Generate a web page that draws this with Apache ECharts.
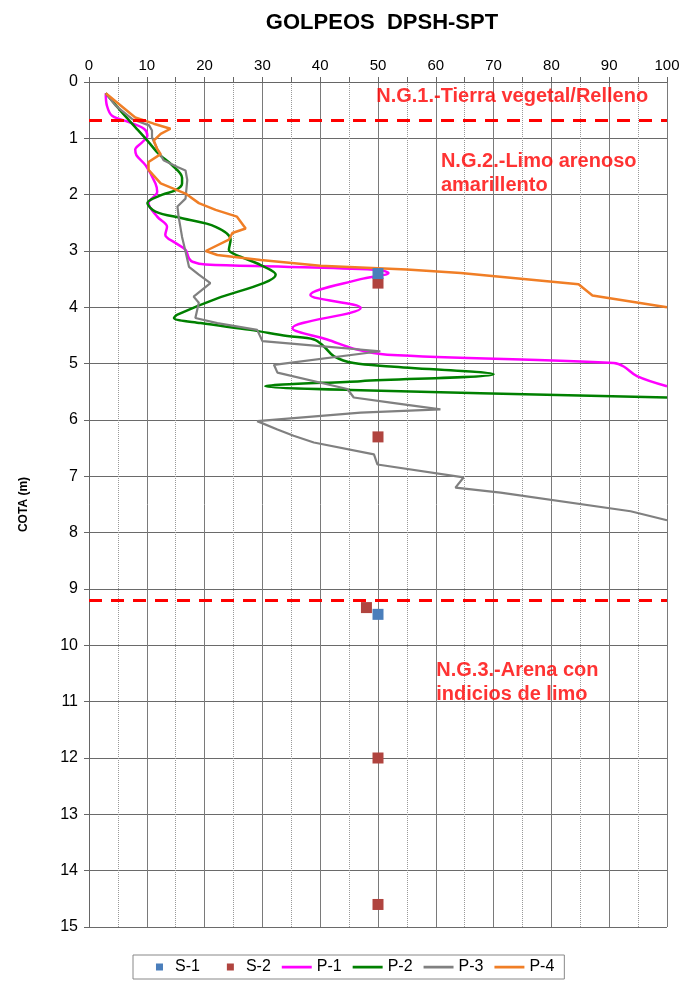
<!DOCTYPE html>
<html>
<head>
<meta charset="utf-8">
<script src="https://cdn.jsdelivr.net/npm/echarts@6/dist/echarts.min.js"></script>
<style>
html,body{margin:0;padding:0;background:#fff;}
#chart{width:683px;height:983px;}
</style>
</head>
<body>
<div id="chart"></div>
<script>
// ---- data: [golpeos, cota] ----
var s1 = [[50, 3.4], [50, 9.45]];
var s2 = [[50, 3.57], [50, 6.3], [48, 9.33], [50, 12.0], [50, 14.6]];
var p1 = [[2.9,0.2],[3.1,0.42],[4.0,0.6],[6.9,0.71],[9.5,0.83],[10.1,0.95],[9.2,1.07],[8.0,1.2],[8.2,1.3],[9.8,1.48],[11.5,1.8],[11.8,1.95],[10.3,2.15],[11.8,2.39],[13.5,2.57],[13.2,2.71],[15,2.86],[16.7,2.98],[17.3,3.13],[17.9,3.19],[20.2,3.24],[33.7,3.28],[50.4,3.34],[51.8,3.39],[47,3.5],[38.3,3.78],[47,4.01],[35.2,4.37],[41.2,4.57],[46.4,4.75],[51.6,4.84],[90.8,4.99],[92.5,5.05],[94.8,5.22],[100,5.4]];
var p2 = [[2.9,0.2],[5.7,0.54],[8.0,0.8],[10.1,1.04],[12.1,1.28],[14.4,1.48],[16.1,1.7],[16.1,1.8],[15,1.92],[12.7,2.0],[10.1,2.15],[11.5,2.3],[16.1,2.42],[21.9,2.57],[24.5,2.8],[24.2,2.98],[26.2,3.1],[29.7,3.25],[32.3,3.42],[30.2,3.57],[22.2,3.84],[15.3,4.13],[14.7,4.19],[19.3,4.28],[27.9,4.4],[34.3,4.51],[38.9,4.57],[40.6,4.69],[42.4,4.87],[45.8,4.99],[52.2,5.05],[70,5.19],[47,5.31],[30.5,5.4],[47,5.47],[100,5.6]];
var p3 = [[2.9,0.2],[4.6,0.42],[7.5,0.66],[10.4,0.77],[10.9,0.86],[10.9,0.98],[11.8,1.19],[12.9,1.39],[15.3,1.51],[16.7,1.57],[17,1.74],[16.7,2.07],[15.3,2.21],[15.5,2.39],[16.1,2.75],[16.7,3.01],[17.3,3.28],[19.0,3.42],[21.0,3.57],[18.1,3.81],[19.0,3.92],[18.4,4.19],[22.2,4.28],[29.1,4.4],[30,4.6],[40,4.69],[50.4,4.78],[32,5.02],[32.6,5.16],[44.7,5.45],[45.8,5.6],[52.2,5.69],[60.8,5.81],[47,5.87],[29.1,6.02],[32.6,6.17],[35.4,6.28],[38.9,6.4],[49.3,6.61],[49.9,6.79],[64.8,7.02],[63.4,7.2],[71.2,7.29],[93.7,7.62],[100,7.78]];
var p4 = [[2.9,0.2],[8.0,0.63],[11.2,0.74],[14.1,0.83],[12.4,0.92],[11.2,1.04],[11.8,1.19],[12.4,1.28],[10.3,1.42],[10.3,1.56],[12.4,1.8],[16.7,1.98],[19,2.15],[21.9,2.27],[25.6,2.39],[27.1,2.6],[24.8,2.68],[24.2,2.8],[20.2,3.0],[22.2,3.07],[29.7,3.16],[40,3.26],[55,3.33],[64.3,3.39],[84.7,3.59],[87.1,3.79],[100,4.0]];
var boundaries = [0.68, 9.2];
var annotations = [
  [49.6, 0.25, 'N.G.1.-Tierra vegetal/Relleno'],
  [60.8, 1.63, 'N.G.2.-Limo arenoso\namarillento'],
  [60.0, 10.66, 'N.G.3.-Arena con\nindicios de limo']
];
var titleText = 'GOLPEOS  DPSH-SPT';
var yName = 'COTA (m)';

var FONT = '"Liberation Sans", Arial, sans-serif';
var SQUARE_ICON = 'path://M0,0h0.01v0.01h-0.01zM16,1.5h7v7h-7zM30,10h0.01v0.01h-0.01z';
var LINE_ICON = 'path://M0,0h0.01v0.01h-0.01zM0,3.8h30v2.6h-30zM30,10h0.01v0.01h-0.01z';
var chart = echarts.init(document.getElementById('chart'));
function lineSeries(name, data, color, width, smooth) {
  return {name: name, type: 'line', data: data, symbol: 'none', smooth: smooth,
    lineStyle: {color: color, width: width}, itemStyle: {color: color}, z: 3};
}
chart.setOption({
  animation: false,
  backgroundColor: '#fff',
  title: {text: titleText, left: 377, top: 7, textAlign: 'center',
    textStyle: {fontFamily: FONT, fontWeight: 'bold', fontSize: 22, color: '#000'}},
  grid: {left: 89, right: 16, top: 82, bottom: 56},
  legend: {
    data: [
      {name: 'S-1', icon: SQUARE_ICON}, {name: 'S-2', icon: SQUARE_ICON},
      {name: 'P-1', icon: LINE_ICON}, {name: 'P-2', icon: LINE_ICON},
      {name: 'P-3', icon: LINE_ICON}, {name: 'P-4', icon: LINE_ICON}
    ],
    left: 133, top: 955, itemWidth: 30, itemHeight: 10, itemGap: 11,
    padding: [4, 10, 4, 7], borderColor: '#888', borderWidth: 1,
    itemStyle: {borderWidth: 0},
    textStyle: {fontFamily: FONT, fontSize: 16, color: '#000'}
  },
  xAxis: {
    type: 'value', position: 'top', min: 0, max: 100, interval: 10,
    axisLine: {show: true, lineStyle: {color: '#666', width: 1}},
    axisTick: {show: true, length: 5, lineStyle: {color: '#666'}},
    minorTick: {show: true, splitNumber: 2, length: 5, lineStyle: {color: '#666'}},
    axisLabel: {fontFamily: FONT, fontSize: 15, color: '#000', margin: 9},
    splitLine: {show: true, lineStyle: {color: '#7a7a7a', width: 1}},
    minorSplitLine: {show: true, lineStyle: {color: '#999', width: 1, type: 'dotted'}}
  },
  yAxis: {
    type: 'value', inverse: true, min: 0, max: 15, interval: 1,
    name: yName, nameLocation: 'middle', nameRotate: 90, nameGap: 59,
    nameTextStyle: {fontFamily: FONT, fontWeight: 'bold', fontSize: 12, color: '#000'},
    axisLine: {show: true, lineStyle: {color: '#666', width: 1}},
    axisTick: {show: true, length: 5, lineStyle: {color: '#666'}},
    axisLabel: {fontFamily: FONT, fontSize: 16, color: '#000', margin: 11},
    splitLine: {show: true, lineStyle: {color: '#6a6a6a', width: 1}}
  },
  series: [
    {name: 'S-1', type: 'scatter', data: s1, symbol: 'rect', symbolSize: 11,
      itemStyle: {color: '#4A7EBB', opacity: 1}, z: 5},
    {name: 'S-2', type: 'scatter', data: s2, symbol: 'rect', symbolSize: 11,
      itemStyle: {color: '#B0443F', opacity: 1}, z: 4},
    lineSeries('P-1', p1, '#FF00FF', 2.5, 0.35),
    lineSeries('P-2', p2, '#008000', 2.5, 0.35),
    lineSeries('P-3', p3, '#808080', 2.2, false),
    lineSeries('P-4', p4, '#F07E26', 2.5, false),
    {name: 'limits', type: 'line', data: [], symbol: 'none',
      markLine: {silent: true, symbol: 'none', label: {show: false},
        lineStyle: {color: '#FF0000', width: 3, type: [13, 9]},
        data: boundaries.map(function (b) { return {yAxis: b}; })}},
    {name: 'notes', type: 'scatter', symbolSize: 1, itemStyle: {color: 'rgba(0,0,0,0)'},
      data: annotations, z: 6,
      label: {show: true, position: 'right', distance: 0,
        formatter: function (p) { return p.value[2]; },
        fontFamily: FONT, fontWeight: 'bold', fontSize: 20, color: '#FF0000',
        lineHeight: 24, align: 'left'}}
  ]
});
</script>
</body>
</html>
